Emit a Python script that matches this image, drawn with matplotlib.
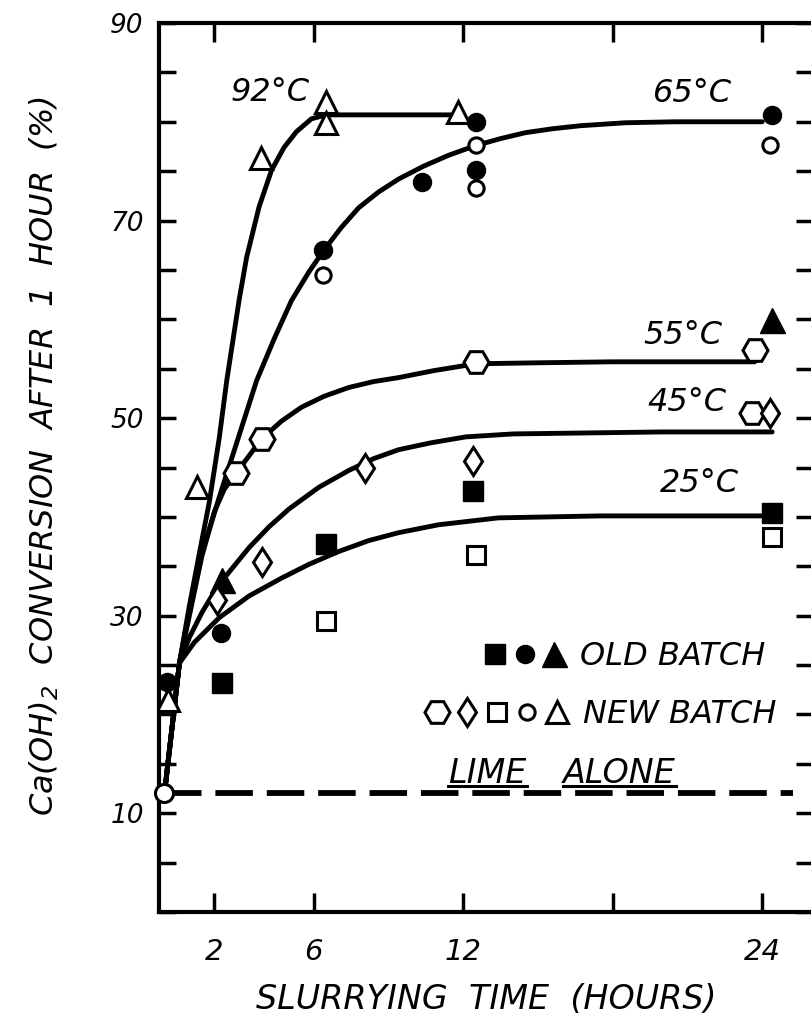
import matplotlib
matplotlib.use('Agg')
import matplotlib.pyplot as plt
from matplotlib.ticker import MultipleLocator, FixedLocator
from matplotlib.legend_handler import HandlerTuple
from matplotlib.lines import Line2D

plt.rcParams['font.family'] = 'DejaVu Sans'
plt.rcParams['font.style'] = 'italic'
plt.rcParams['mathtext.fontset'] = 'dejavusans'
plt.rcParams['lines.scale_dashes'] = False

# fitted curves (hours, % conversion)
t92 = [0, 0.6, 1.0, 1.4, 1.8, 2.2, 2.5, 3.0, 3.3, 3.8, 4.3, 4.8, 5.3, 5.9, 6.5, 11.5]
c92 = [12, 25.2, 31.0, 36.3, 41.5, 48.0, 53.8, 62.0, 66.3, 71.4, 75.1, 77.4, 79.0, 80.3, 80.7, 80.7]
t65 = [0, 0.6, 1.0, 1.5, 2.2, 2.9, 3.7, 4.4, 5.1, 5.8, 6.4, 7.1, 7.8, 8.6, 9.4, 10.4,
       11.4, 12.5, 13.5, 14.5, 15.6, 16.7, 18.5, 20.5, 24.0]
c65 = [12, 25.2, 30.5, 36.3, 42.0, 47.5, 53.8, 58.0, 61.9, 64.8, 67.0, 69.3, 71.3, 72.9, 74.2, 75.5,
       76.6, 77.6, 78.3, 78.9, 79.3, 79.6, 79.9, 80.0, 80.0]
t55 = [0, 0.6, 1.0, 1.5, 2.0, 2.4, 2.9, 3.9, 4.7, 5.5, 6.4, 7.4, 8.4, 9.4, 10.8, 12.5, 15, 18, 21, 23.7]
c55 = [12, 25.2, 30.0, 36.0, 40.5, 42.8, 44.5, 47.9, 49.7, 51.1, 52.2, 53.1, 53.7, 54.1, 54.8, 55.5,
       55.6, 55.7, 55.7, 55.7]
t45 = [0, 0.6, 1.0, 1.5, 2.0, 2.3, 3.4, 4.2, 5.0, 6.2, 7.4, 8.4, 9.4, 10.7, 12.1, 14, 17, 20, 24.4]
c45 = [12, 25.2, 27.8, 30.3, 32.4, 33.5, 36.9, 39.0, 40.8, 43.0, 44.7, 45.9, 46.8, 47.5, 48.1, 48.4,
       48.5, 48.6, 48.6]
t25 = [0, 0.6, 1.2, 2.2, 3.4, 4.7, 5.8, 7.0, 8.2, 9.4, 11.0, 13.4, 17.5, 24.2]
c25 = [12, 25.2, 27.3, 29.8, 32.0, 33.8, 35.2, 36.5, 37.6, 38.4, 39.2, 39.9, 40.1, 40.1]

# measured points
sq_old_x = [2.3, 6.5, 12.4, 24.4]
sq_old_y = [23.2, 37.3, 42.6, 40.4]
sq_new_x = [6.5, 12.5, 24.4]
sq_new_y = [29.5, 36.1, 38.0]
ci_old_x = [0.1, 2.25, 6.36, 10.35, 12.5, 12.5, 24.4]
ci_old_y = [23.3, 28.2, 67.0, 73.9, 80.0, 75.1, 80.7]
ci_new_x = [6.36, 12.5, 12.5, 24.3]
ci_new_y = [64.5, 77.6, 73.3, 77.6]
tr_old_x = [2.3, 24.4]
tr_old_y = [33.6, 59.9]
tr_new_x = [0.15, 1.29, 3.87, 6.5, 6.5, 11.8]
tr_new_y = [21.5, 43.0, 76.3, 82.0, 79.9, 81.0]
hx_new_x = [2.86, 3.9, 12.5, 23.7, 23.6]
hx_new_y = [44.4, 47.9, 55.7, 56.9, 50.5]
dm_new_x = [2.1, 3.9, 8.05, 12.4, 24.3]
dm_new_y = [31.6, 35.4, 45.0, 45.7, 50.5]

lime_x = 0
lime_y = 12.0
lime_end = 25.25

temps = ['92°C', '65°C', '55°C', '45°C', '25°C']
temp_x = [4.24, 21.2, 20.8, 21.0, 21.5]
temp_y = [83.0, 82.9, 58.4, 51.6, 43.4]

xticks = [2, 6, 12, 18, 24]
xticklabels = ['2', '6', '12', '', '24']
yticks = [10, 30, 50, 70, 90]

fig = plt.figure(figsize=(8.11, 10.27), dpi=100)
ax = fig.add_axes([159/811, 115/1027, 654/811, 889/1027])

for t, c in [(t92, c92), (t65, c65), (t55, c55), (t45, c45), (t25, c25)]:
    ax.plot(t, c, color='k', lw=3.5, solid_joinstyle='round', solid_capstyle='round', zorder=2)

ax.hlines(lime_y, lime_x, lime_end, colors='k', lw=4.2, linestyles=(0, (27, 10)), zorder=2)

mew = 2.2
h_sq_f, = ax.plot(sq_old_x, sq_old_y, 's', ms=15, mfc='k', mec='k', mew=1, ls='none', zorder=4)
h_sq_o, = ax.plot(sq_new_x, sq_new_y, 's', ms=13.5, mfc='white', mec='k', mew=mew, ls='none', zorder=4)
h_ci_f, = ax.plot(ci_old_x, ci_old_y, 'o', ms=13, mfc='k', mec='k', mew=1, ls='none', zorder=4)
h_ci_o, = ax.plot(ci_new_x, ci_new_y, 'o', ms=11, mfc='white', mec='k', mew=mew, ls='none', zorder=4)
h_tr_f, = ax.plot(tr_old_x, tr_old_y, '^', ms=18, mfc='k', mec='k', mew=1, ls='none', zorder=4)
h_tr_o, = ax.plot(tr_new_x, tr_new_y, '^', ms=16, mfc='white', mec='k', mew=mew, ls='none', zorder=4)
h_hx_o, = ax.plot(hx_new_x, hx_new_y, 'H', ms=18, mfc='white', mec='k', mew=mew, ls='none', zorder=4)
h_dm_o, = ax.plot(dm_new_x, dm_new_y, 'd', ms=14.5, mfc='white', mec='k', mew=mew, ls='none', zorder=4)
ax.plot([lime_x], [lime_y], 'o', ms=13, mfc='white', mec='k', mew=mew, zorder=5, clip_on=False)

for lab, x, y in zip(temps, temp_x, temp_y):
    ax.text(x, y, lab, fontsize=23, ha='center', va='center')

ax.set_xlim(-0.22, 26.04)
ax.set_ylim(0, 90)
ax.xaxis.set_major_locator(FixedLocator(xticks))
ax.set_xticklabels(xticklabels)
ax.yaxis.set_major_locator(FixedLocator(yticks))
ax.yaxis.set_minor_locator(MultipleLocator(5))
ax.tick_params(which='both', direction='in', top=True, right=True, width=2.5)
ax.tick_params(axis='x', which='both', length=14, pad=19, labelsize=21)
ax.tick_params(axis='y', which='both', length=12, pad=11, labelsize=19)
for s in ax.spines.values():
    s.set_linewidth(3)

ax.set_xlabel('SLURRYING  TIME  (HOURS)', fontsize=24, labelpad=12)
ax.set_ylabel(r'Ca(OH)$_2$  CONVERSION  AFTER  1  HOUR  (%)', fontsize=23)
ax.yaxis.set_label_coords(-0.15, 0.513)

hmap = {tuple: HandlerTuple(ndivide=None, pad=0)}
leg1 = ax.legend([(h_sq_f, h_ci_f, h_tr_f)], ['OLD BATCH'], handler_map=hmap,
                 handlelength=2.75, handletextpad=0.35, frameon=False, fontsize=23,
                 loc='center left', bbox_to_anchor=(0.492, 0.287), borderpad=0, borderaxespad=0)
ax.add_artist(leg1)
leg2 = ax.legend([(h_hx_o, h_dm_o, h_sq_o, h_ci_o, h_tr_o)], ['NEW BATCH'], handler_map=hmap,
                 handlelength=4.7, handletextpad=0.35, frameon=False, fontsize=23,
                 loc='center left', bbox_to_anchor=(0.402, 0.2216), borderpad=0, borderaxespad=0)

t1 = ax.text(11.4, 14.0, 'LIME', fontsize=24, ha='left', va='center')
t2 = ax.text(16.0, 14.0, 'ALONE', fontsize=24, ha='left', va='center')

fig.canvas.draw()
inv = fig.transFigure.inverted()
for t in (t1, t2):
    bb = t.get_window_extent()
    (x0, y0), (x1, _) = inv.transform([(bb.x0, bb.y0 + 4), (bb.x1, bb.y0 + 4)])
    fig.add_artist(Line2D([x0, x1], [y0, y0], color='k', lw=2.2))

fig.savefig('out.png', dpi=100)
